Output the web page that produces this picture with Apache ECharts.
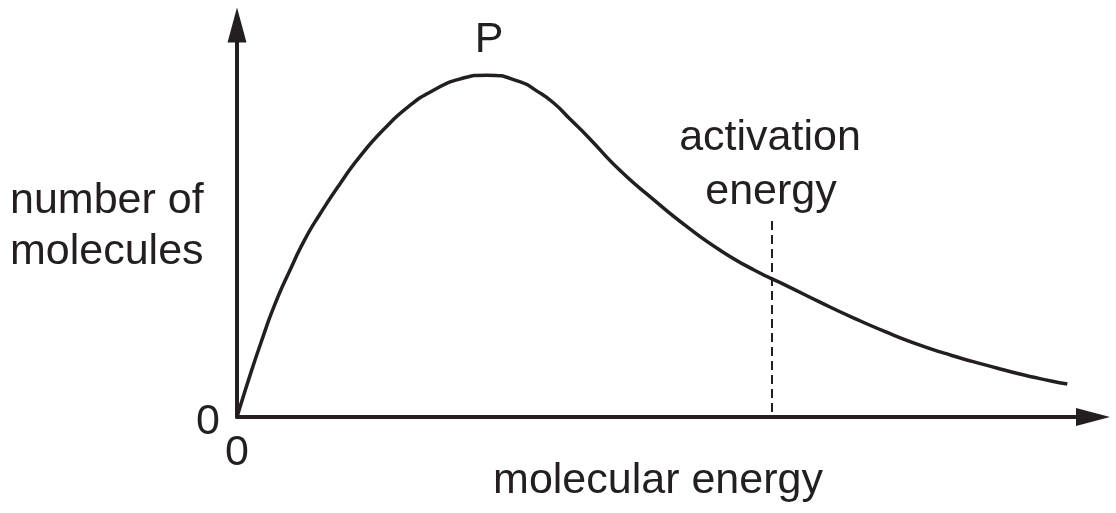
<!DOCTYPE html>
<html>
<head>
    <meta charset="utf-8">
    <title>molecular energy distribution</title>
    <script src="https://cdn.jsdelivr.net/npm/echarts@6/dist/echarts.min.js"></script>
    <style type="text/css">
        * {
            margin: 0px;
            padding: 0px;
        }

        #main {
            width: 1116px;
            height: 513px;
            background: #fff;
        }
    </style>
</head>
<body>
<div id="main"></div>
<script type="text/javascript">
    // curve (x = molecular energy, y = number of molecules)
    var energy = [0, 0.15, 0.29, 0.44, 0.62, 0.79, 0.97, 1.20, 1.43, 1.72, 2.01, 2.30, 2.60, 2.92,
        3.31, 3.50, 3.70, 3.89, 4.09, 4.47, 4.87, 5.26, 5.64, 6.04,
        6.43, 6.81, 7.20, 7.58, 7.97, 8.35, 8.74, 9.12, 9.51, 9.70];
    var molecules = [0, 1.05, 1.96, 2.86, 3.75, 4.52, 5.18, 5.94, 6.63, 7.35, 7.93, 8.34, 8.62, 8.72,
        8.55, 8.32, 8.01, 7.60, 7.17, 6.30, 5.54, 4.85, 4.26, 3.75,
        3.34, 2.93, 2.53, 2.17, 1.84, 1.57, 1.33, 1.11, 0.92, 0.84];

    // activation energy marker (dashed)
    var activationX = [6.25, 6.25];
    var activationY = [5.0, 0];

    var axisMax = 10;

    var ink = '#231f20';
    var font = '"Liberation Sans", Arial, sans-serif';

    var curveData = [];
    for (var i = 0; i < energy.length; i++) {
        curveData.push([energy[i], molecules[i]]);
    }
    var markerData = [];
    for (var j = 0; j < activationX.length; j++) {
        markerData.push([activationX[j], activationY[j]]);
    }

    function label(text, x, y, align) {
        return {
            type: 'text',
            x: x,
            y: y,
            style: {
                text: text,
                fill: ink,
                font: '43px ' + font,
                align: align || 'center',
                verticalAlign: 'middle'
            }
        };
    }

    var myChart = echarts.init(document.getElementById('main'));

    var option = {
        animation: false,
        backgroundColor: '#fff',
        grid: {
            left: 237,
            right: 23,
            top: 25,
            bottom: 96
        },
        xAxis: {
            type: 'value',
            min: 0,
            max: axisMax,
            axisLine: {
                symbol: ['none', 'path://M9,0L18,34L0,34Z'],
                symbolSize: [18, 34],
                lineStyle: {color: ink, width: 4}
            },
            axisTick: {show: false},
            axisLabel: {show: false},
            splitLine: {show: false}
        },
        yAxis: {
            type: 'value',
            min: 0,
            max: axisMax,
            axisLine: {
                show: true,
                symbol: ['none', 'path://M9.5,0L19,35L0,35Z'],
                symbolSize: [19, 35],
                lineStyle: {color: ink, width: 4}
            },
            axisTick: {show: false},
            axisLabel: {show: false},
            splitLine: {show: false}
        },
        series: [{
            name: 'distribution',
            type: 'line',
            data: curveData,
            smooth: 0.55,
            showSymbol: false,
            lineStyle: {color: ink, width: 3.5}
        }, {
            name: 'activation energy',
            type: 'line',
            data: markerData,
            showSymbol: false,
            lineStyle: {color: ink, width: 2, type: [9, 5]}
        }],
        graphic: [
            label('P', 489, 40),
            label('activation', 770, 138),
            label('energy', 771, 192),
            label('number of', 10, 201, 'left'),
            label('molecules', 10, 252, 'left'),
            label('0', 208, 422),
            label('0', 237, 453),
            label('molecular energy', 658, 481)
        ]
    };

    myChart.setOption(option);
</script>
</body>
</html>
